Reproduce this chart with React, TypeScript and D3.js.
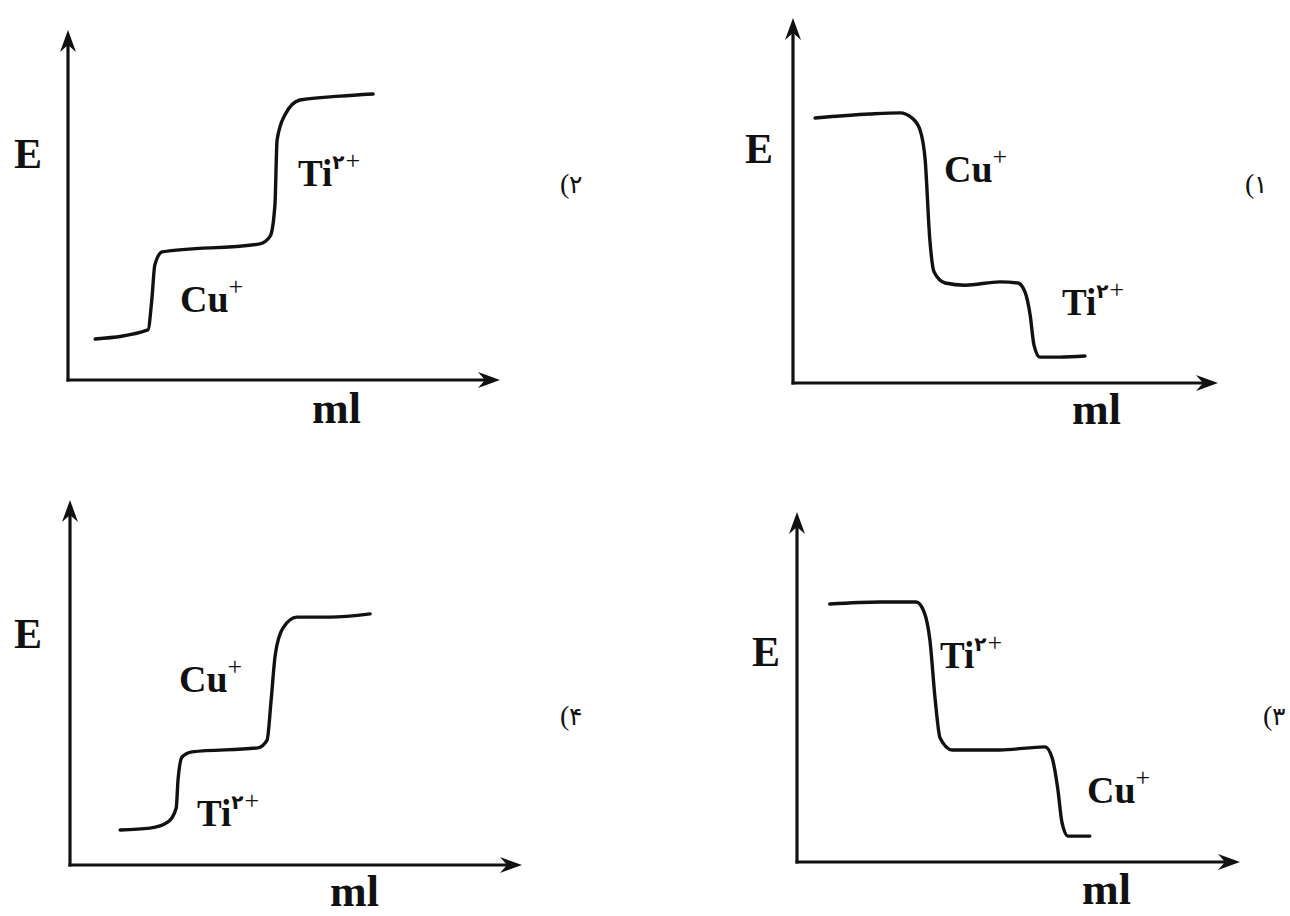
import React from "react";
import * as d3 from "d3";

// titration curves (x: ml along axis 0..10, E: 0..10)
const curve1X = [0.52, 1.81, 2.52, 2.8, 2.99, 3.11, 3.22, 3.32, 3.58, 4.05, 4.87, 5.29, 5.46, 5.58, 5.67, 5.81, 6.28, 6.87];
const curve1E = [7.26, 7.37, 7.4, 7.26, 6.93, 6.11, 3.92, 3.04, 2.74, 2.68, 2.77, 2.74, 2.49, 1.86, 1.04, 0.71, 0.71, 0.74];

const curve2X = [0.63, 1.85, 1.94, 2.01, 2.18, 4.44, 4.68, 4.79, 4.84, 5.02, 5.37, 6.3, 7.06];
const curve2E = [1.17, 1.43, 2.29, 3.29, 3.66, 3.89, 4.11, 5.0, 6.86, 7.57, 8.0, 8.11, 8.17];

const curve3X = [0.74, 1.87, 2.69, 2.87, 3.0, 3.12, 3.23, 3.5, 4.58, 5.6, 5.76, 5.89, 5.98, 6.12, 6.61];
const curve3E = [7.37, 7.43, 7.43, 7.14, 6.34, 4.63, 3.54, 3.2, 3.2, 3.29, 2.97, 2.06, 1.14, 0.74, 0.74];

const curve4X = [1.11, 1.77, 2.17, 2.35, 2.39, 2.48, 2.7, 4.16, 4.36, 4.45, 4.54, 4.71, 5.02, 5.75, 6.64];
const curve4E = [0.96, 1.01, 1.18, 1.56, 2.33, 2.96, 3.1, 3.21, 3.42, 4.52, 5.75, 6.49, 6.79, 6.79, 6.88];

const optionDigits = ["۱", "۲", "۳", "۴"];
const yLabel = "E";
const xLabel = "ml";

const FONT = "'Liberation Serif', 'DejaVu Serif', serif";
const ARABIC = "'DejaVu Sans', sans-serif";

type Ion = { kind: "cu" | "ti"; lx: number; ly: number };

const panels = [
  {
    // (۱ top right
    ox: 793, oy: 383, xLen: 425, yLen: 365,
    xs: curve1X, es: curve1E, tag: optionDigits[0], tagX: 1245, tagY: 193,
    eX: 745, eY: 163, mlX: 1072, mlY: 424,
    ions: [{ kind: "cu", lx: 944, ly: 182 }, { kind: "ti", lx: 1062, ly: 315 }] as Ion[],
  },
  {
    // (۲ top left
    ox: 68, oy: 380, xLen: 432, yLen: 350,
    xs: curve2X, es: curve2E, tag: optionDigits[1], tagX: 560, tagY: 193,
    eX: 14, eY: 168, mlX: 312, mlY: 423,
    ions: [{ kind: "ti", lx: 298, ly: 186 }, { kind: "cu", lx: 180, ly: 312 }] as Ion[],
  },
  {
    // (۳ bottom right
    ox: 797, oy: 862, xLen: 443, yLen: 350,
    xs: curve3X, es: curve3E, tag: optionDigits[2], tagX: 1263, tagY: 725,
    eX: 752, eY: 666, mlX: 1082, mlY: 904,
    ions: [{ kind: "ti", lx: 940, ly: 668 }, { kind: "cu", lx: 1087, ly: 803 }] as Ion[],
  },
  {
    // (۴ bottom left
    ox: 70, oy: 865, xLen: 452, yLen: 365,
    xs: curve4X, es: curve4E, tag: optionDigits[3], tagX: 560, tagY: 725,
    eX: 14, eY: 648, mlX: 330, mlY: 906,
    ions: [{ kind: "cu", lx: 179, ly: 692 }, { kind: "ti", lx: 197, ly: 826 }] as Ion[],
  },
];

const IonLabel = ({ ion }: { ion: Ion }) => {
  if (ion.kind === "cu") {
    return (
      <text x={ion.lx} y={ion.ly} fontFamily={FONT} fontWeight="bold" fontSize={38} fill="#111">
        Cu<tspan dy={-17} fontSize={26} fontWeight="normal">+</tspan>
      </text>
    );
  }
  return (
    <text x={ion.lx} y={ion.ly} fontFamily={FONT} fontWeight="bold" fontSize={37} fill="#111">
      Ti<tspan dy={-17} fontSize={20} fontFamily={ARABIC} fontWeight="bold">۲</tspan>
      <tspan dx={1} fontSize={26} fontWeight="normal">+</tspan>
    </text>
  );
};

const Panel = ({ p }: { p: (typeof panels)[number] }) => {
  const x = d3.scaleLinear().domain([0, 10]).range([p.ox, p.ox + p.xLen]);
  const y = d3.scaleLinear().domain([0, 10]).range([p.oy, p.oy - p.yLen]);
  const pts: [number, number][] = p.xs.map((v, i) => [v, p.es[i]]);
  const line = d3
    .line<[number, number]>()
    .x((d) => x(d[0]))
    .y((d) => y(d[1]))
    .curve(d3.curveMonotoneX);

  const x0 = x(0), y0 = y(0), xEnd = x(10), yEnd = y(10);
  const upHead = `M${x0},${yEnd} L${x0 + 8},${yEnd + 22} L${x0},${yEnd + 15} L${x0 - 8},${yEnd + 22} Z`;
  const rightHead = `M${xEnd},${y0} L${xEnd - 22},${y0 - 8} L${xEnd - 15},${y0} L${xEnd - 22},${y0 + 8} Z`;

  return (
    <g>
      <line x1={x0} y1={y0 + 1.5} x2={x0} y2={yEnd + 12} stroke="#111" strokeWidth={3.2} />
      <line x1={x0 - 1.5} y1={y0} x2={xEnd - 12} y2={y0} stroke="#111" strokeWidth={3.2} />
      <path d={upHead} fill="#111" />
      <path d={rightHead} fill="#111" />
      <path d={line(pts) ?? ""} fill="none" stroke="#111" strokeWidth={3.4} strokeLinecap="round" />
      <text x={p.eX} y={p.eY} fontFamily={FONT} fontWeight="bold" fontSize={42} fill="#111">
        {yLabel}
      </text>
      <text x={p.mlX} y={p.mlY} fontFamily={FONT} fontWeight="bold" fontSize={44} fill="#111">
        {xLabel}
      </text>
      {p.ions.map((ion, i) => (
        <IonLabel key={i} ion={ion} />
      ))}
      {/* option number: paren drawn apart so bidi cannot reorder it */}
      <text x={p.tagX} y={p.tagY} fontFamily={FONT} fontSize={28} fill="#111">(</text>
      <text x={p.tagX + 9} y={p.tagY} fontFamily={ARABIC} fontSize={25} fill="#111">{p.tag}</text>
    </g>
  );
};

export default function App() {
  return (
    <svg
      width={1290}
      height={916}
      style={{ position: "absolute", left: 0, top: 0, background: "#fff" }}
    >
      <rect width={1290} height={916} fill="#fff" />
      {panels.map((p, i) => (
        <Panel key={i} p={p} />
      ))}
    </svg>
  );
}
